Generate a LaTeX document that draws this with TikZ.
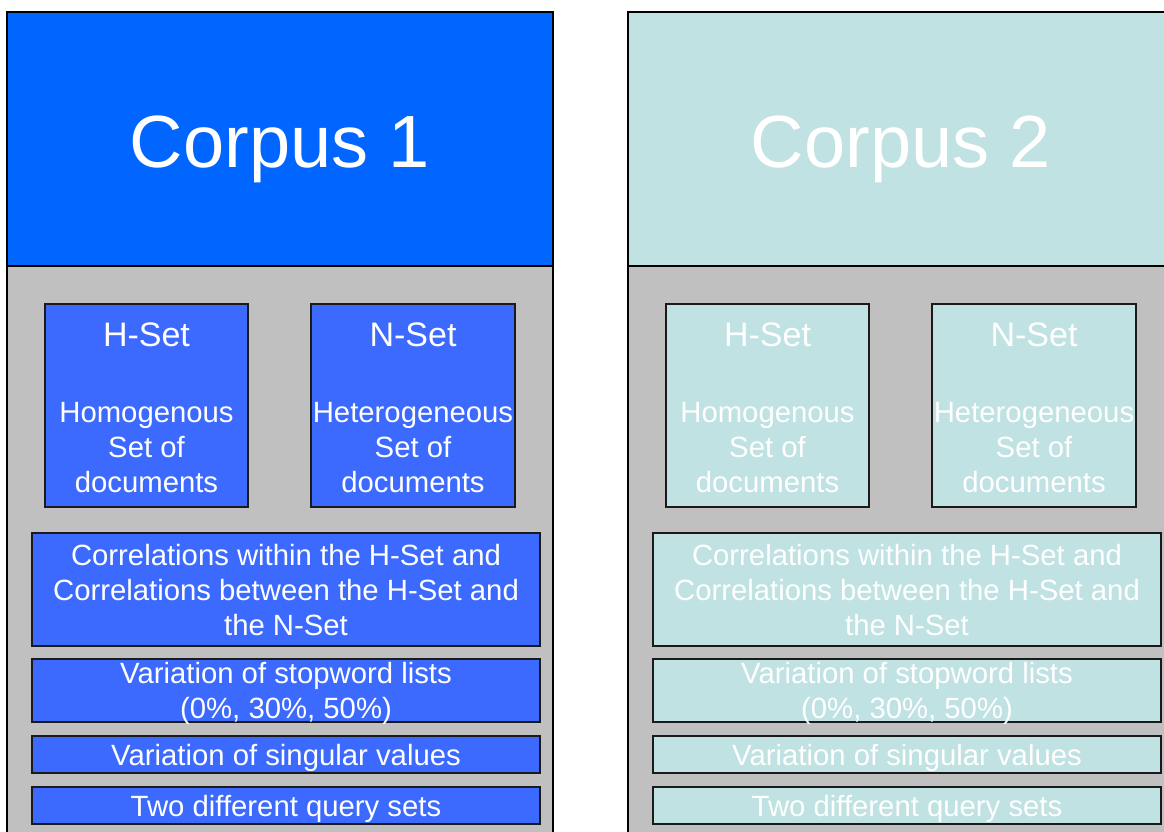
\documentclass[tikz,border=0pt]{standalone}
\usepackage{fontspec}
\setmainfont{Liberation Sans}
\definecolor{hdrblue}{HTML}{0066FF}
\definecolor{boxblue}{HTML}{3C6AFF}
\definecolor{hdrcyan}{HTML}{C0E2E2}
\definecolor{boxcyan}{HTML}{C0E2E2}
\definecolor{panelgray}{HTML}{C0C0C0}
\definecolor{edge}{HTML}{1A1A1A}
\tikzset{
  panel/.style={draw=black, line width=2pt, rectangle, inner sep=0pt},
  subbox/.style={draw=edge, line width=1.5pt, rectangle, inner sep=0pt},
  titletxt/.style={text=white, inner sep=0pt, anchor=base, font=\fontsize{74}{80}\selectfont},
  bigtxt/.style={text=white, inner sep=0pt, anchor=base, font=\fontsize{34}{40}\selectfont},
  bodytxt/.style={text=white, inner sep=0pt, anchor=base, font=\fontsize{29.3}{35}\selectfont},
}
\begin{document}
\begin{tikzpicture}[x=1pt,y=-1pt]
\useasboundingbox (0,0) rectangle (1164,832);
\clip (0,0) rectangle (1164,832);
\fill[white] (0,0) rectangle (1164,832);
\foreach \dx/\hc/\bc/\n in {0/hdrblue/boxblue/1, 621/hdrcyan/boxcyan/2}{
\begin{scope}[xshift=\dx pt]
  \node[panel, fill=panelgray, minimum width=546, minimum height=584] (body\n) at (280,558) {};
  \node[panel, fill=\hc, minimum width=546, minimum height=254] (head\n) at (280,139) {};
  \node[titletxt] (title\n) at (280,167) {Corpus \n};
  % H-Set box
  \node[subbox, fill=\bc, minimum width=203, minimum height=203] (hset\n) at (146.5,405.5) {};
  \node[bigtxt] (hsetA\n) at (146.5,346) {H-Set};
  \node[bodytxt] (hsetB\n) at (146.5,422) {Homogenous};
  \node[bodytxt] (hsetC\n) at (146.5,457) {Set of};
  \node[bodytxt] (hsetD\n) at (146.5,492) {documents};
  % N-Set box
  \node[subbox, fill=\bc, minimum width=204, minimum height=203] (nset\n) at (413,405.5) {};
  \node[bigtxt] (nsetA\n) at (413,346) {N-Set};
  \node[bodytxt] (nsetB\n) at (413,422) {Heterogeneous};
  \node[bodytxt] (nsetC\n) at (413,457) {Set of};
  \node[bodytxt] (nsetD\n) at (413,492) {documents};
  % Correlations
  \node[subbox, fill=\bc, minimum width=508, minimum height=113] (corr\n) at (286,589.5) {};
  \node[bodytxt] (corrA\n) at (286,565) {Correlations within the H-Set and};
  \node[bodytxt] (corrB\n) at (286,600) {Correlations between the H-Set and};
  \node[bodytxt] (corrC\n) at (286,635) {the N-Set};
  % Stopwords
  \node[subbox, fill=\bc, minimum width=508, minimum height=63] (stop\n) at (286,690.5) {};
  \node[bodytxt] (stopA\n) at (286,683) {Variation of stopword lists};
  \node[bodytxt] (stopB\n) at (286,718) {(0\%, 30\%, 50\%)};
  % Singular values
  \node[subbox, fill=\bc, minimum width=508, minimum height=37] (sing\n) at (286,754.5) {};
  \node[bodytxt] (singA\n) at (286,765) {Variation of singular values};
  % Query sets
  \node[subbox, fill=\bc, minimum width=508, minimum height=37] (query\n) at (286,805.5) {};
  \node[bodytxt] (queryA\n) at (286,816) {Two different query sets};
\end{scope}
}
\end{tikzpicture}
\end{document}
